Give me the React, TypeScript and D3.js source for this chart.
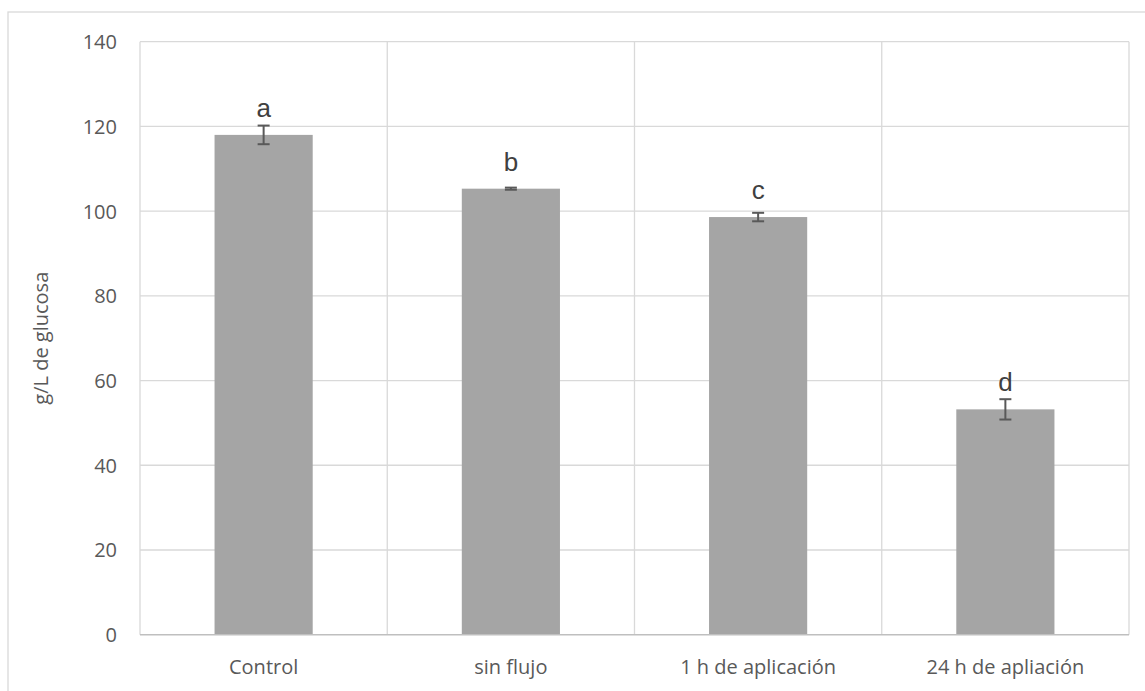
import React from "react";
import * as d3 from "d3";

const categories = ["Control", "sin flujo", "1 h de aplicación", "24 h de apliación"];
const values = [118.0, 105.3, 98.6, 53.2];
const errors = [2.2, 0.25, 1.0, 2.4];
const letters = ["a", "b", "c", "d"];
const yTicks = [0, 20, 40, 60, 80, 100, 120, 140];
const yTitle = "g/L de glucosa";

const W = 1145;
const H = 691;
const plot = { left: 140, right: 1129, top: 41.7, bottom: 634.7 };

export default function App() {
  const x = d3
    .scaleBand<string>()
    .domain(categories)
    .range([plot.left, plot.right])
    .paddingInner(0)
    .paddingOuter(0);
  const y = d3.scaleLinear().domain([0, 140]).range([plot.bottom, plot.top]);
  const bw = x.bandwidth();
  const barW = bw * 0.397;
  const boundaries = [...categories.map((c) => x(c)!), plot.right];
  const tickFont = "'Open Sans', 'Liberation Sans', sans-serif";

  return (
    <svg
      width={W}
      height={H}
      style={{ position: "absolute", left: 0, top: 0, background: "#fff" }}
    >
      <rect x={0} y={0} width={W} height={H} fill="#fff" />
      <rect x={8} y={12} width={W + 20} height={H + 20} fill="none" stroke="#d9d9d9" strokeWidth={1.3} />
      {yTicks.map((t) => (
        <g key={t}>
          {t > 0 && (
            <line x1={plot.left} x2={plot.right} y1={y(t)} y2={y(t)} stroke="#d9d9d9" strokeWidth={1.3} />
          )}
          <text
            x={117}
            y={y(t)}
            textAnchor="end"
            dominantBaseline="central"
            fontFamily={tickFont}
            fontSize={20}
            fill="#595959"
          >
            {t}
          </text>
        </g>
      ))}
      {boundaries.map((b, i) => (
        <line key={i} x1={b} x2={b} y1={plot.top} y2={plot.bottom} stroke="#d9d9d9" strokeWidth={1.3} />
      ))}
      {categories.map((c, i) => {
        const cx = x(c)! + bw / 2;
        const top = y(values[i]);
        const eTop = y(values[i] + errors[i]);
        const eBot = y(values[i] - errors[i]);
        return (
          <g key={c}>
            <rect x={cx - barW / 2} y={top} width={barW} height={plot.bottom - top} fill="#a5a5a5" />
            <line x1={cx} x2={cx} y1={eTop} y2={eBot} stroke="#595959" strokeWidth={2} />
            <line x1={cx - 6} x2={cx + 6} y1={eTop} y2={eTop} stroke="#595959" strokeWidth={2} />
            <line x1={cx - 6} x2={cx + 6} y1={eBot} y2={eBot} stroke="#595959" strokeWidth={2} />
            <text
              x={cx}
              y={top - 18}
              textAnchor="middle"
              fontFamily="'Liberation Sans', Arial, sans-serif"
              fontSize={26}
              fill="#404040"
            >
              {letters[i]}
            </text>
            <text
              x={cx}
              y={666}
              textAnchor="middle"
              dominantBaseline="central"
              fontFamily={tickFont}
              fontSize={20}
              fill="#595959"
            >
              {c}
            </text>
          </g>
        );
      })}
      <line x1={plot.left} x2={plot.right} y1={plot.bottom} y2={plot.bottom} stroke="#bfbfbf" strokeWidth={1.5} />
      <text
        transform={`translate(40, ${(plot.top + plot.bottom) / 2}) rotate(-90)`}
        textAnchor="middle"
        dominantBaseline="central"
        fontFamily={tickFont}
        fontSize={20}
        fill="#595959"
      >
        {yTitle}
      </text>
    </svg>
  );
}
